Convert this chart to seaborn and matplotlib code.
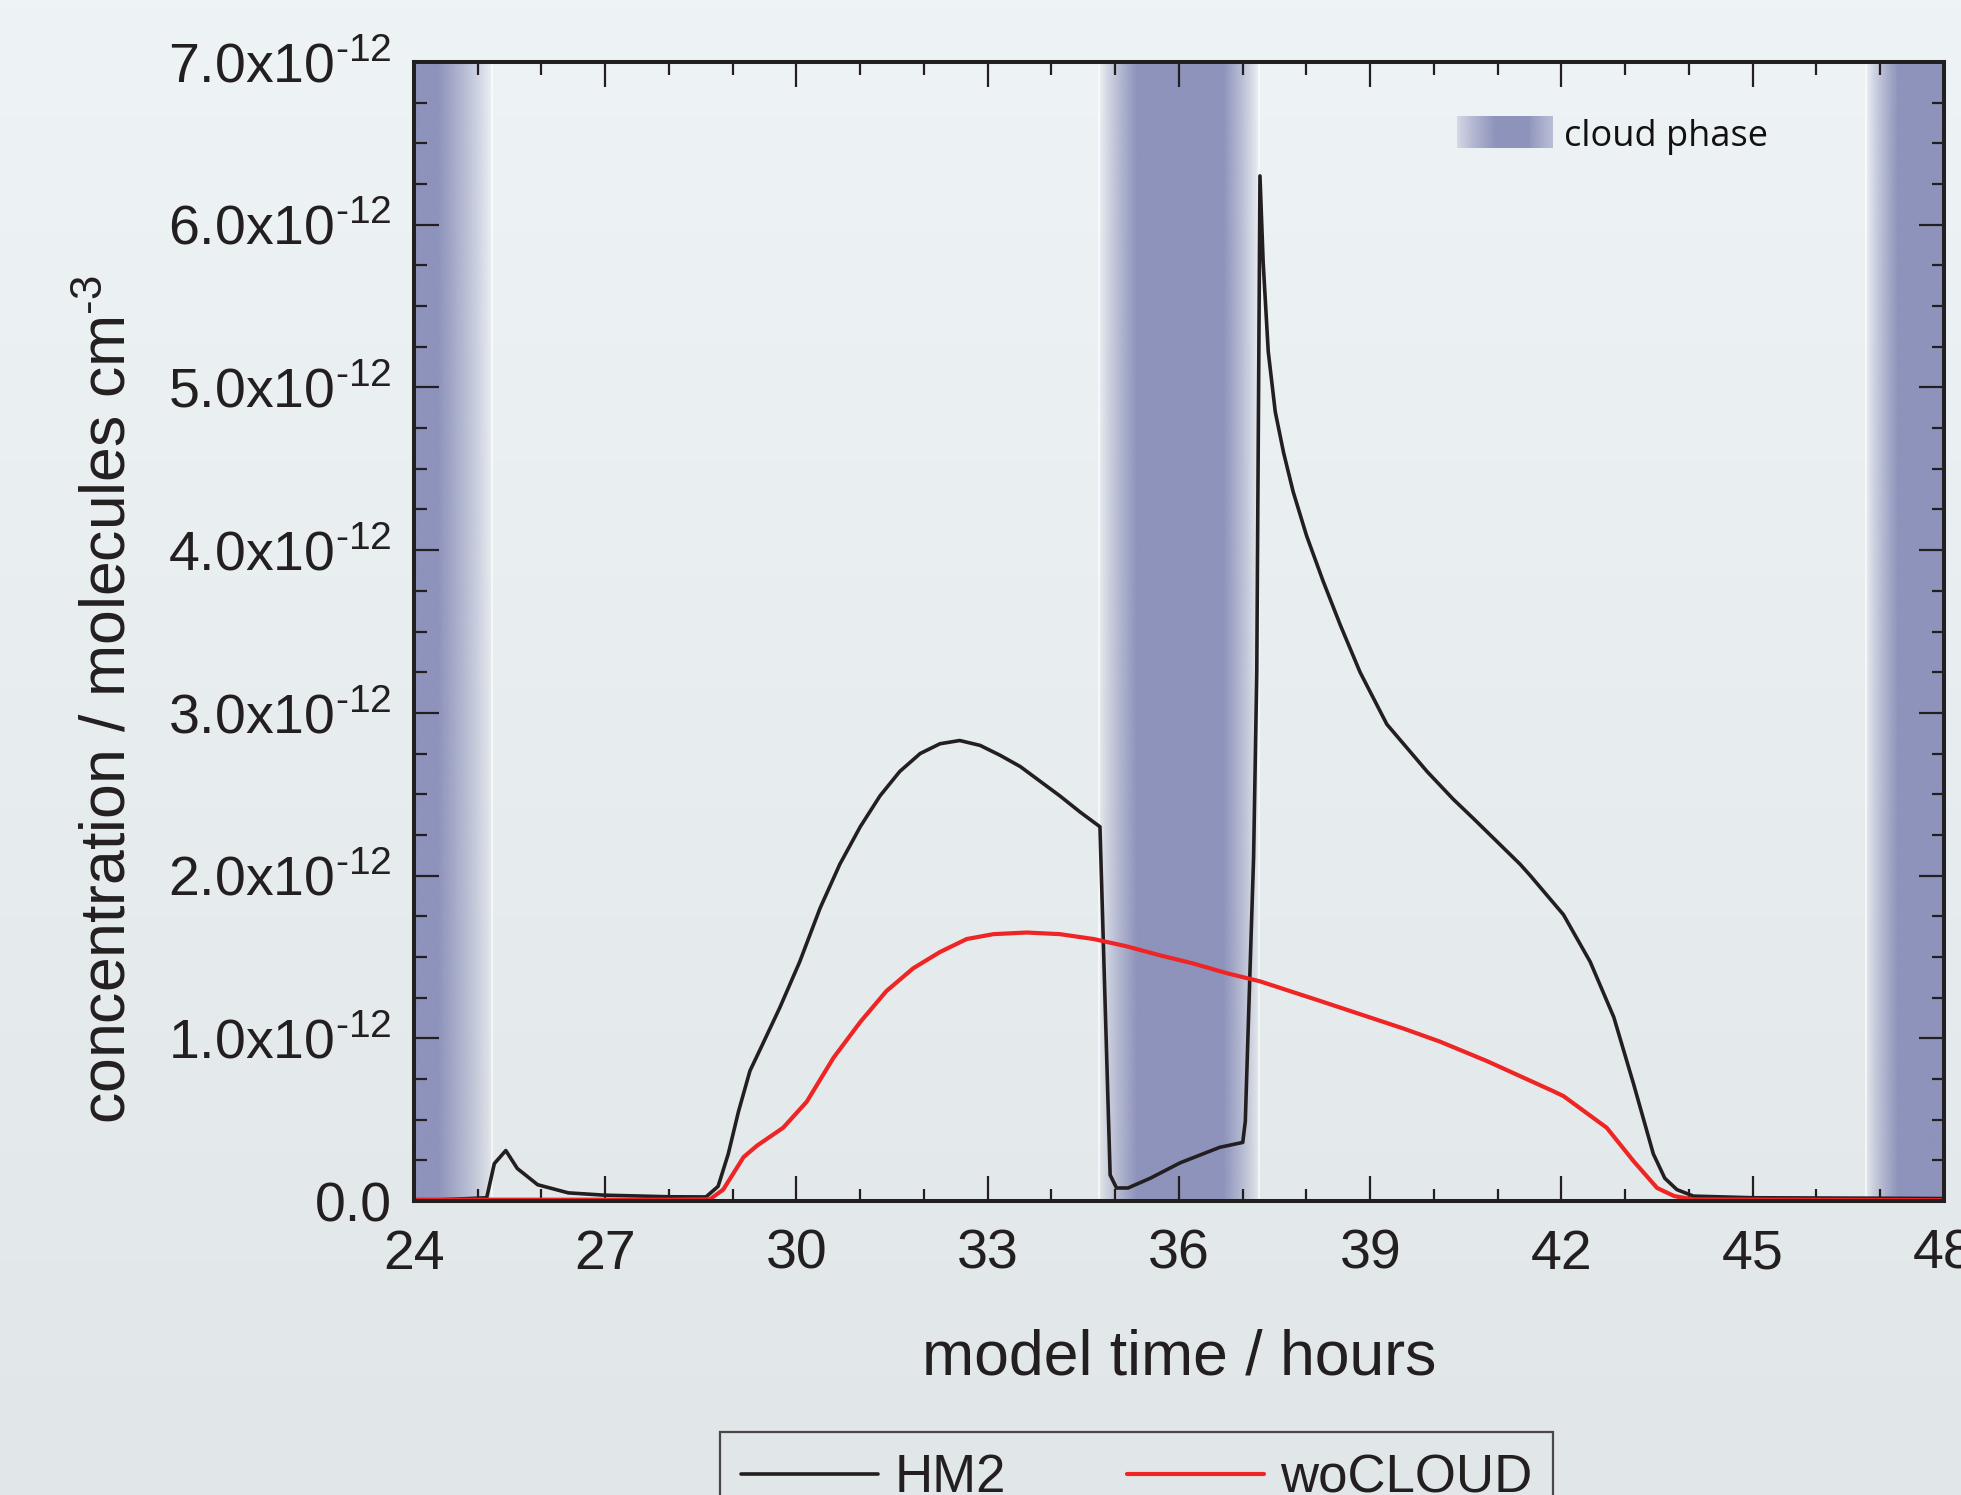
import numpy as np
import matplotlib
matplotlib.use("Agg")
import matplotlib.pyplot as plt
from matplotlib.colors import to_rgb
from matplotlib.lines import Line2D
from matplotlib.ticker import MultipleLocator, FixedLocator
import seaborn as sns

# model output, concentration in units of 1e-12 molecules cm-3
hm2_hours = [24.0, 25.14, 25.26, 25.44, 25.62, 25.94, 26.42, 26.98, 28.0, 28.58,
             28.77, 28.93, 29.09, 29.27, 29.44, 29.74, 30.05, 30.37, 30.68, 31.0,
             31.31, 31.62, 31.94, 32.25, 32.56, 32.88, 33.19, 33.51, 33.82, 34.13,
             34.45, 34.76, 34.92, 35.02, 35.2, 35.55, 36.02, 36.64, 37.0, 37.04,
             37.11, 37.17, 37.22, 37.27, 37.32, 37.40, 37.51, 37.64, 37.79, 38.0,
             38.26, 38.53, 38.84, 39.26, 39.89, 40.3, 40.62, 41.35, 41.51, 42.03,
             42.45, 42.82, 43.13, 43.44, 43.62, 43.81, 44.07, 45.0, 47.0, 48.0]
hm2_conc = [0.0, 0.02, 0.23, 0.31, 0.20, 0.10, 0.05, 0.036, 0.026, 0.025,
            0.09, 0.29, 0.55, 0.80, 0.94, 1.19, 1.47, 1.80, 2.07, 2.30,
            2.49, 2.64, 2.75, 2.81, 2.83, 2.80, 2.74, 2.67, 2.58, 2.49,
            2.39, 2.30, 0.16, 0.08, 0.08, 0.14, 0.235, 0.33, 0.36, 0.49,
            1.37, 2.11, 3.25, 6.30, 5.77, 5.22, 4.85, 4.60, 4.36, 4.09,
            3.81, 3.54, 3.25, 2.93, 2.64, 2.47, 2.35, 2.07, 2.0, 1.76,
            1.47, 1.13, 0.72, 0.29, 0.14, 0.07, 0.03, 0.02, 0.017, 0.015]

wocloud_hours = [24.0, 28.0, 28.64, 28.85, 29.17, 29.38, 29.79, 30.16, 30.58, 31.0,
                 31.41, 31.83, 32.25, 32.67, 33.09, 33.61, 34.13, 34.66, 35.18, 35.7,
                 36.22, 36.75, 37.27, 38.21, 39.52, 40.09, 40.83, 41.87, 42.03, 42.71,
                 43.13, 43.5, 43.77, 44.07, 48.0]
wocloud_conc = [0.008, 0.008, 0.01, 0.07, 0.27, 0.34, 0.45, 0.61, 0.88, 1.10,
                1.29, 1.43, 1.53, 1.61, 1.64, 1.65, 1.64, 1.61, 1.565, 1.51,
                1.46, 1.40, 1.35, 1.23, 1.06, 0.98, 0.86, 0.675, 0.645, 0.45,
                0.245, 0.08, 0.03, 0.01, 0.005]

# cloud phases: fade-in start, fully cloudy from, fully cloudy to, fade-out end
cloud_phases = [(24.0, 24.0, 24.38, 25.22),
                (34.75, 35.34, 36.7, 37.25),
                (46.78, 47.28, 48.0, 48.0)]

x_ticks = [24, 27, 30, 33, 36, 39, 42, 45, 48]
y_ticks = [0, 1e-12, 2e-12, 3e-12, 4e-12, 5e-12, 6e-12, 7e-12]
y_tick_labels = ["0.0",
                 "1.0x10$^{\\mathregular{\u201012}}$", "2.0x10$^{\\mathregular{\u201012}}$",
                 "3.0x10$^{\\mathregular{\u201012}}$", "4.0x10$^{\\mathregular{\u201012}}$",
                 "5.0x10$^{\\mathregular{\u201012}}$", "6.0x10$^{\\mathregular{\u201012}}$",
                 "7.0x10$^{\\mathregular{\u201012}}$"]

BAND = "#8e93bc"
BLACK = "#231f20"
RED = "#ee2524"

sns.set_style("ticks")
plt.rcParams["font.family"] = ["Liberation Sans", "DejaVu Sans"]
plt.rcParams["mathtext.fontset"] = "custom"
plt.rcParams["mathtext.rm"] = "Liberation Sans"
plt.rcParams["axes.unicode_minus"] = False


def ramp(t):
    return np.clip(t, 0, 1) ** 0.85


def band_rgba(xs, x0, x1, x2, x3):
    a = np.ones_like(xs)
    if x1 > x0:
        a = np.where(xs < x1, ramp((xs - x0) / (x1 - x0)), a)
    if x3 > x2:
        a = np.where(xs > x2, ramp((x3 - xs) / (x3 - x2)), a)
    img = np.zeros((1, len(xs), 4))
    img[..., :3] = to_rgb(BAND)
    img[..., 3] = a
    return img


fig = plt.figure(figsize=(19.61, 14.95), dpi=100)

# soft grey-blue page gradient
bg = fig.add_axes([0, 0, 1, 1], zorder=-10)
top_c = np.array(to_rgb("#eef3f6"))
bot_c = np.array(to_rgb("#e1e6e8"))
t = np.linspace(0, 1, 256)[:, None, None]
bg.imshow(top_c * (1 - t) + bot_c * t, aspect="auto", extent=(0, 1, 0, 1))
bg.axis("off")

ax = fig.add_axes([414 / 1961, 1 - 1201 / 1495, 1530 / 1961, 1139 / 1495])
ax.set_facecolor("none")

ymax = 7e-12
for x0, x1, x2, x3 in cloud_phases:
    xs = np.linspace(x0, x3, 300)
    ax.imshow(band_rgba(xs, x0, x1, x2, x3), extent=(x0, x3, 0, ymax),
              aspect="auto", interpolation="bilinear", zorder=0)
    for edge in (x0, x3):
        if 24 < edge < 48:
            ax.axvline(edge, color="white", lw=1.5, alpha=0.6, zorder=1)

sns.lineplot(x=hm2_hours, y=np.array(hm2_conc) * 1e-12, color=BLACK, lw=2.6,
             ax=ax, zorder=3, solid_joinstyle="round")
sns.lineplot(x=wocloud_hours, y=np.array(wocloud_conc) * 1e-12, color=RED, lw=3.0,
             ax=ax, zorder=4, solid_joinstyle="round")

ax.set_xlim(24, 48)
ax.set_ylim(0, ymax)

ax.xaxis.set_major_locator(FixedLocator(x_ticks))
ax.xaxis.set_minor_locator(MultipleLocator(1))
ax.yaxis.set_major_locator(FixedLocator(y_ticks))
ax.yaxis.set_minor_locator(MultipleLocator(0.25e-12))
ax.set_xticklabels([str(v) for v in x_ticks])
ax.set_yticklabels(y_tick_labels)

ax.tick_params(which="both", direction="in", top=True, right=True,
               color=BLACK, width=1.6)
ax.tick_params(which="major", length=18, labelsize=40, labelcolor=BLACK)
ax.tick_params(which="minor", length=9)
ax.tick_params(axis="x", which="major", pad=20)
ax.tick_params(axis="y", which="major", pad=16)
for s in ax.spines.values():
    s.set_linewidth(2.9)
    s.set_color(BLACK)
    s.set_zorder(5)

ax.set_xlabel("model time / hours", fontsize=45, color=BLACK)
ax.set_ylabel("concentration / molecules cm$^{\\mathregular{\u20103}}$", fontsize=45,
              color=BLACK)
ax.xaxis.set_label_coords(0.5, -0.112)
ax.yaxis.set_label_coords(-0.18, 0.44)

# cloud phase key, top right
key = fig.add_axes([1457 / 1961, 1 - 148 / 1495, 96 / 1961, 32 / 1495])
kx = np.linspace(0, 1, 100)
key_img = np.zeros((1, 100, 4))
key_img[..., :3] = to_rgb(BAND)
key_img[..., 3] = np.where(kx < 0.4, 0.25 + 0.75 * ramp(kx / 0.4),
                           np.where(kx > 0.75, 1 - 0.45 * ramp((kx - 0.75) / 0.25), 1))
key.imshow(key_img, aspect="auto", extent=(0, 1, 0, 1), interpolation="bilinear")
key.axis("off")
fig.text(1564 / 1961, 1 - 137 / 1495, "cloud phase", fontsize=26,
         family=["Open Sans", "DejaVu Sans"], va="center", ha="left", color="#111111")

handles = [Line2D([], [], color=BLACK, lw=2.6), Line2D([], [], color=RED, lw=3.0)]
leg = fig.legend(handles, ["HM2", "woCLOUD"], loc="upper left",
                 bbox_to_anchor=(720 / 1961, 1 - 1432 / 1495), ncol=2,
                 fontsize=38, frameon=True, fancybox=False, edgecolor=BLACK,
                 facecolor="none", framealpha=None, handlelength=2.6,
                 handletextpad=0.3, columnspacing=2.3, borderpad=0.4,
                 borderaxespad=0)
leg.get_frame().set_linewidth(1.6)
for txt in leg.get_texts():
    txt.set_color(BLACK)

fig.savefig("out.png", dpi=100)
plt.close(fig)
